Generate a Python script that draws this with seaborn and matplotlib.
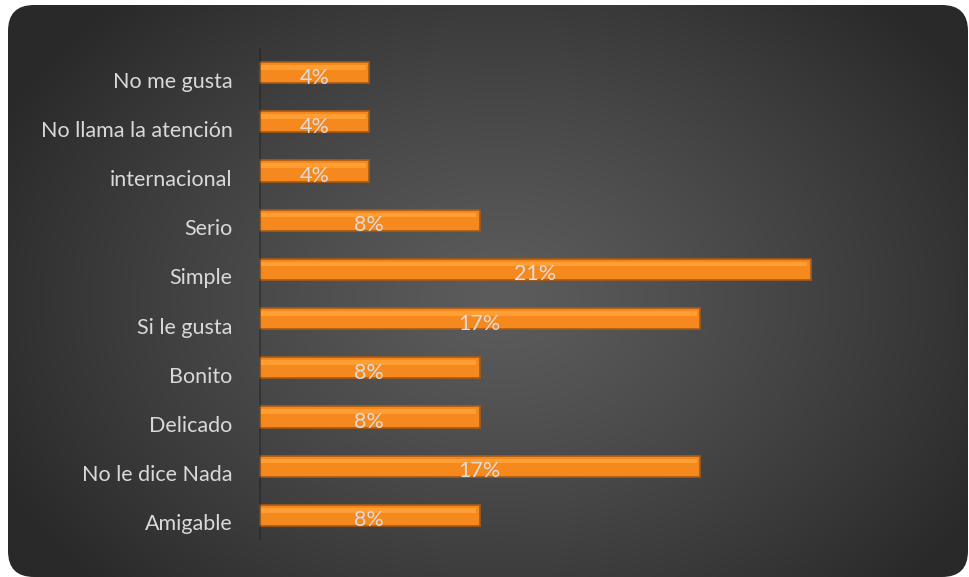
import numpy as np
import pandas as pd
import matplotlib
matplotlib.use("Agg")
import matplotlib.pyplot as plt
import matplotlib.transforms as mtransforms
from matplotlib.patches import FancyBboxPatch
import seaborn as sns

categories = ["No me gusta", "No llama la atención", "internacional", "Serio", "Simple",
              "Si le gusta", "Bonito", "Delicado", "No le dice Nada", "Amigable"]
values = [4.17, 4.17, 4.17, 8.33, 20.83, 16.67, 8.33, 8.33, 16.67, 8.33]
value_labels = ["4%", "4%", "4%", "8%", "21%", "17%", "8%", "8%", "17%", "8%"]

sns.set_theme(style="white")
plt.rcParams["font.family"] = ["Lato", "DejaVu Sans"]

W, H = 969, 577
fig = plt.figure(figsize=(W / 100, H / 100), dpi=100)
fig.patch.set_facecolor("white")

# background rounded panel with radial gradient
bg = fig.add_axes([0, 0, 1, 1])
bg.set_xlim(0, W)
bg.set_ylim(H, 0)
bg.axis("off")
xx, yy = np.meshgrid(np.linspace(0, W, 400), np.linspace(0, H, 240))
cx, cy = 500, 300
d = np.sqrt(((xx - cx) / 560) ** 2 + ((yy - cy) / 420) ** 2)
d = np.clip(d, 0, 1)
light, dark = 0x5c / 255, 0x29 / 255
g = light + (dark - light) * d ** 1.2
img = np.dstack([g, g, g])
im = bg.imshow(img, extent=(0, W, H, 0), aspect="auto", zorder=0)
panel = FancyBboxPatch((8, 5), 960, 572, boxstyle="round,pad=0,rounding_size=26",
                       facecolor="none", edgecolor="none", transform=bg.transData)
bg.add_patch(panel)
im.set_clip_path(panel)

# main axes
top_px, bot_px = 47.9, 540.1
left_px, right_px = 259, 921
ax = fig.add_axes([left_px / W, 1 - bot_px / H, (right_px - left_px) / W, (bot_px - top_px) / H])
ax.patch.set_alpha(0)

df = pd.DataFrame({"cat": categories, "val": values})
sns.barplot(data=df, y="cat", x="val", orient="h", color="#F5891E", width=0.43,
            edgecolor="#A85A14", linewidth=1.2, ax=ax, saturation=1)
# highlight stripe on top of bars
for p in ax.patches:
    x0, y0 = p.get_x(), p.get_y()
    w, h = p.get_width(), p.get_height()
    ax.add_patch(plt.Rectangle((x0 + 0.06, y0 + h * 0.14), w - 0.2, h * 0.22,
                               facecolor="#FF9E33", edgecolor="none", zorder=3))

ax.set_xlim(0, 25)
ax.set_ylim(len(categories) - 0.5, -0.5)
ax.set_xlabel("")
ax.set_ylabel("")
ax.set_xticks([])
for s in ax.spines.values():
    s.set_visible(False)
ax.axvline(0, color="#222222", lw=3, alpha=0.45, zorder=1)

ax.tick_params(axis="y", length=0, pad=19, labelsize=15.5, labelcolor="#D9D9D9")
off = mtransforms.ScaledTranslation(0, -7 / 100, fig.dpi_scale_trans)
for t in ax.get_yticklabels():
    t.set_transform(t.get_transform() + off)

off2 = mtransforms.ScaledTranslation(0, -5 / 100, fig.dpi_scale_trans)
for i, (v, lab) in enumerate(zip(values, value_labels)):
    ax.text(v / 2, i, lab, ha="center", va="center", fontsize=15.5, color="#DCDCDC",
            transform=ax.transData + off2, zorder=5)

fig.savefig("out.png", dpi=100)
